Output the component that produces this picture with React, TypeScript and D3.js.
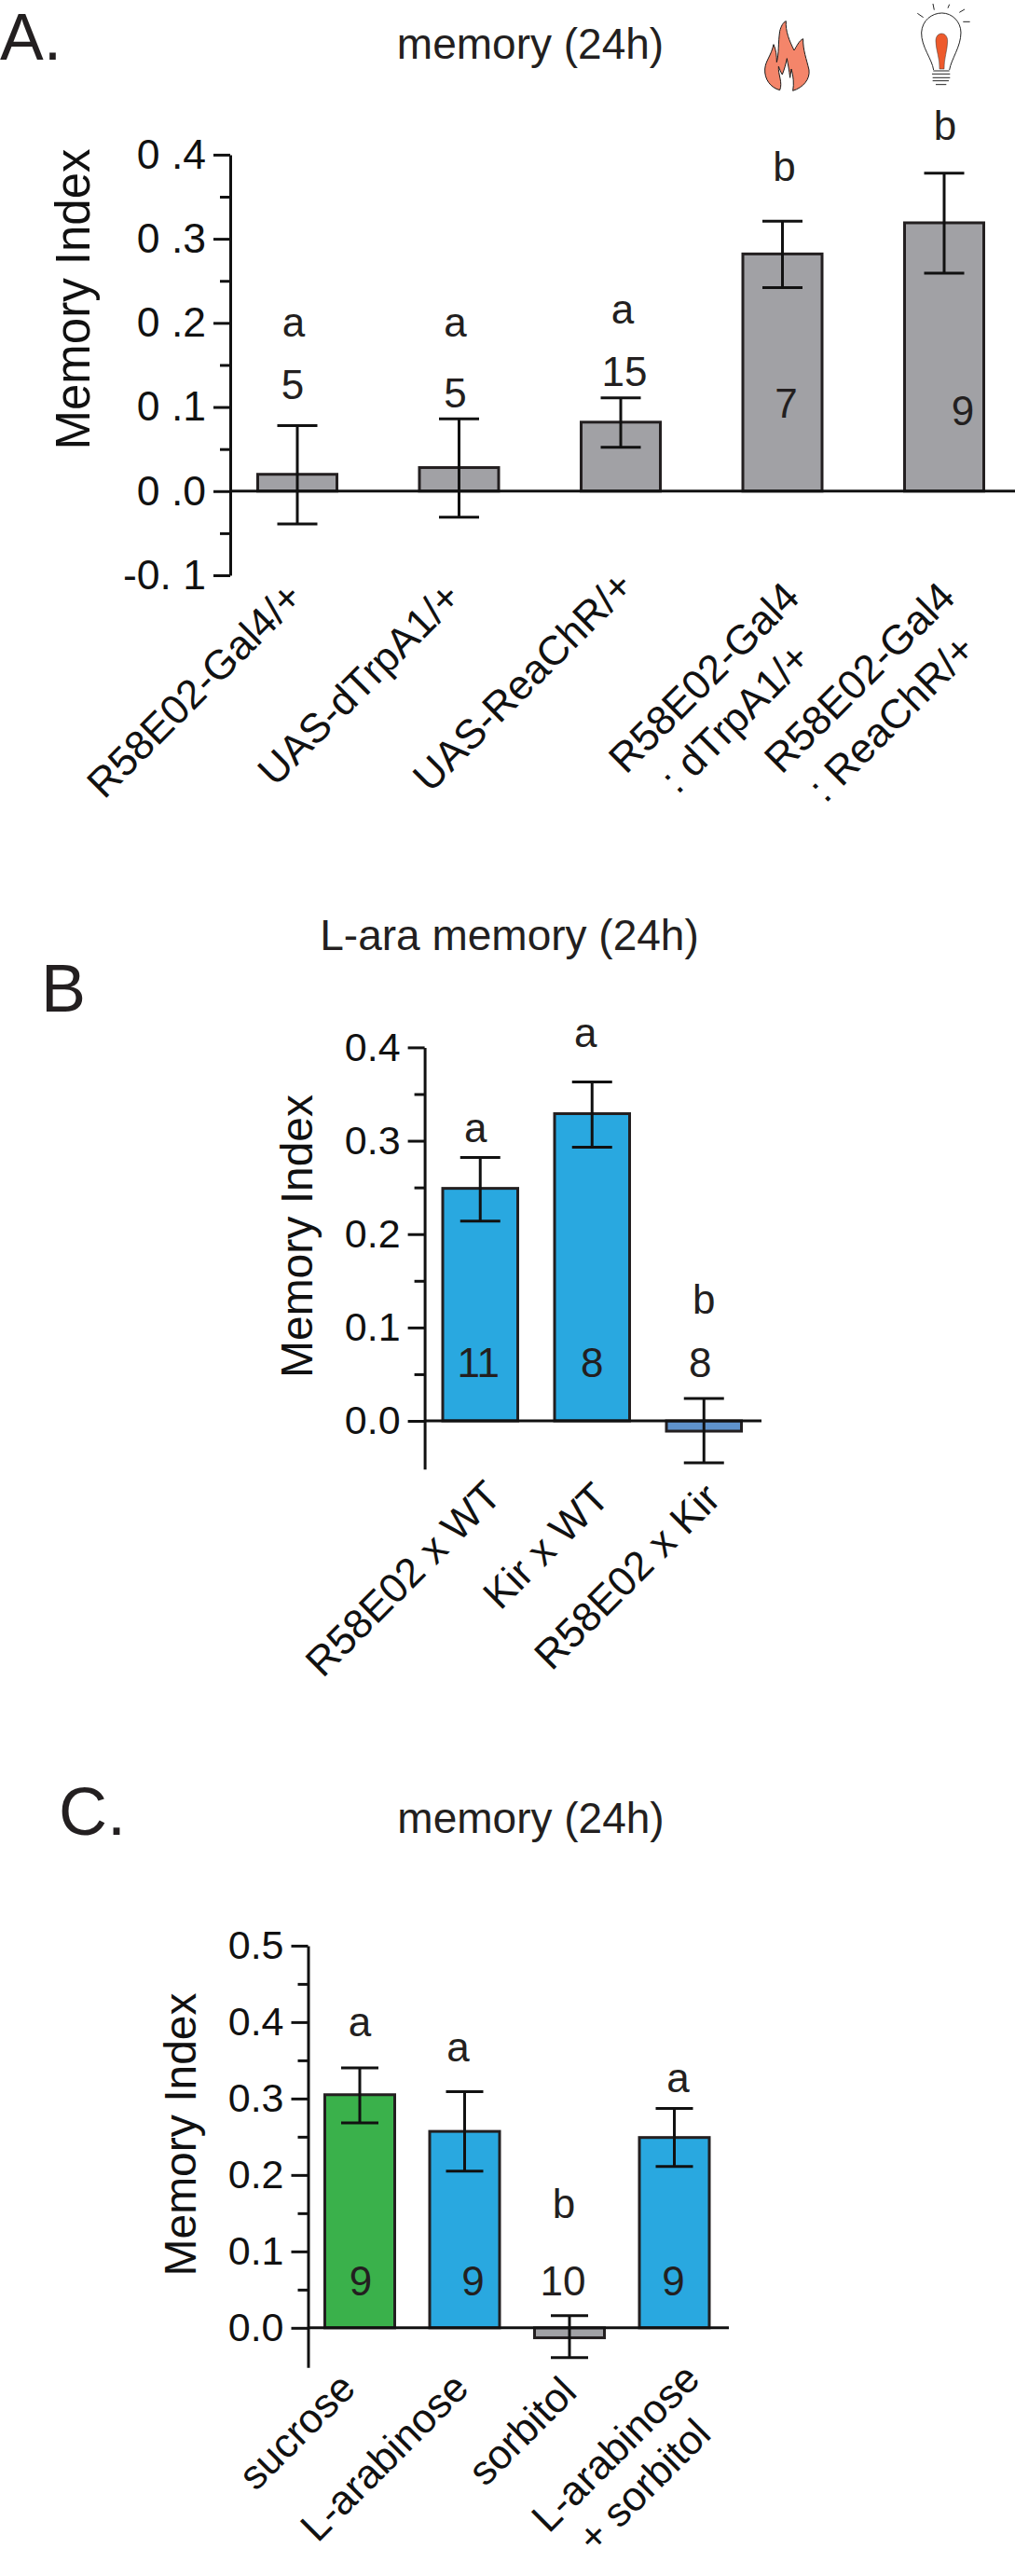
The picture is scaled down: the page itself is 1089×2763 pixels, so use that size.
import { useRef, useEffect } from "react";
import * as d3 from "d3";

const INK = "#231f20";
const GRAY = "#a1a1a5";
const BLUE = "#29a8e0";
const GREEN = "#3ab14b";
const STEEL = "#5f93cc";

// Panel A
const categoriesA = ["R58E02-Gal4/+", "UAS-dTrpA1/+", "UAS-ReaChR/+", "R58E02-Gal4\n: dTrpA1/+", "R58E02-Gal4\n: ReaChR/+"];
const valuesA = [0.02, 0.028, 0.082, 0.282, 0.319];
const upperA = [0.078, 0.086, 0.111, 0.321, 0.378];
const lowerA = [-0.039, -0.031, 0.052, 0.242, 0.259];
const lettersA = ["a", "a", "a", "b", "b"];
const countsA = ["5", "5", "15", "7", "9"];
const letterLevelA = [0.184, 0.184, 0.199, 0.369, 0.418];
const countLevelA = [0.11, 0.1, 0.125, 0.087, 0.078];
const ticksA = [0.4, 0.3, 0.2, 0.1, 0, -0.1];
const tickLabelsA = ["0 .4", "0 .3", "0 .2", "0 .1", "0 .0", "-0. 1"];
const minorA = [0.35, 0.25, 0.15, 0.05, -0.05];

// Panel B
const categoriesB = ["R58E02 x WT", "Kir x WT", "R58E02 x Kir"];
const valuesB = [0.249, 0.329, -0.011];
const upperB = [0.282, 0.363, 0.024];
const lowerB = [0.214, 0.293, -0.045];
const lettersB = ["a", "a", "b"];
const countsB = ["11", "8", "8"];
const letterLevelB = [0.299, 0.4, 0.115];
const countLevelB = [0.047, 0.047, 0.047];
const ticksB = [0.4, 0.3, 0.2, 0.1, 0];
const tickLabelsB = ["0.4", "0.3", "0.2", "0.1", "0.0"];
const minorB = [0.35, 0.25, 0.15, 0.05];

// Panel C
const categoriesC = ["sucrose", "L-arabinose", "sorbitol", "L-arabinose\n+ sorbitol"];
const valuesC = [0.305, 0.257, -0.013, 0.249];
const upperC = [0.34, 0.309, 0.016, 0.287];
const lowerC = [0.268, 0.205, -0.039, 0.211];
const lettersC = ["a", "a", "b", "a"];
const countsC = ["9", "9", "10", "9"];
const letterLevelC = [0.382, 0.349, 0.144, 0.308];
const countLevelC = [0.043, 0.043, 0.043, 0.043];
const ticksC = [0.5, 0.4, 0.3, 0.2, 0.1, 0];
const tickLabelsC = ["0.5", "0.4", "0.3", "0.2", "0.1", "0.0"];
const minorC = [0.45, 0.35, 0.25, 0.15, 0.05];

const panels = [
  {
    letter: "A.", letterX: 0, letterY: 64, letterSize: 70, title: "memory (24h)", titleX: 569, titleY: 63,
    axisX: 247, xEnd: 1089, yTop: 165.9, yZero: 526.4, yBottom: 617, domain: [-0.1, 0.4],
    bandStart: 276.5, bandEnd: 1055.5, barW: 85, capW: 43, tickSize: 44.5,
    categories: categoriesA, values: valuesA, upper: upperA, lower: lowerA, letters: lettersA, counts: countsA,
    letterLevel: letterLevelA, countLevel: countLevelA, ticks: ticksA, tickLabels: tickLabelsA, minor: minorA,
    colors: [GRAY, GRAY, GRAY, GRAY, GRAY],
    letterDx: [-4, -4, 2, 2, 1], countDx: [-5, -4, 4, 4, 20],
    yLabelX: 96, yLabelY: 321, yLabelSize: 51,
    xEnds: [[327, 643], [497, 643], [682, 631], [860, 643, 872, 708], [1027, 643, 1049, 699]],
  },
  {
    letter: "B", letterX: 44, letterY: 1085, letterSize: 72, title: "L-ara memory (24h)", titleX: 546.5, titleY: 1019,
    axisX: 455.6, xEnd: 817, yTop: 1123.4, yZero: 1524, yBottom: 1575.7, domain: [-0.0516, 0.4],
    bandStart: 475, bandEnd: 795.5, barW: 80.5, capW: 43, tickSize: 43,
    categories: categoriesB, values: valuesB, upper: upperB, lower: lowerB, letters: lettersB, counts: countsB,
    letterLevel: letterLevelB, countLevel: countLevelB, ticks: ticksB, tickLabels: tickLabelsB, minor: minorB,
    colors: [BLUE, BLUE, STEEL],
    letterDx: [-5, -7, 0], countDx: [-2, 0, -4],
    yLabelX: 334.7, yLabelY: 1326, yLabelSize: 48,
    xEnds: [[540, 1607], [656, 1609], [775, 1610]],
  },
  {
    letter: "C.", letterX: 63, letterY: 1967.5, letterSize: 72, title: "memory (24h)", titleX: 569.5, titleY: 1966,
    axisX: 330.5, xEnd: 782, yTop: 2086.9, yZero: 2496.8, yBottom: 2539.2, domain: [-0.0517, 0.5],
    bandStart: 348.5, bandEnd: 761, barW: 75, capW: 40, tickSize: 43,
    categories: categoriesC, values: valuesC, upper: upperC, lower: lowerC, letters: lettersC, counts: countsC,
    letterLevel: letterLevelC, countLevel: countLevelC, ticks: ticksC, tickLabels: tickLabelsC, minor: minorC,
    colors: [GREEN, BLUE, GRAY, BLUE],
    letterDx: [0, -7, -6, 4], countDx: [1, 9, -7, -1],
    yLabelX: 209.7, yLabelY: 2289.5, yLabelSize: 48,
    xEnds: [[383.5, 2564], [505, 2564], [621, 2568], [753, 2554, 765, 2613]],
  },
];

const FONT = "'Liberation Sans', Arial, sans-serif";

function drawPanel(svg: d3.Selection<SVGSVGElement, unknown, null, undefined>, p: (typeof panels)[number]) {
  const g = svg.append("g");
  const x = d3.scaleBand<string>().domain(p.categories).range([p.bandStart, p.bandEnd]).paddingInner(
    1 - p.barW / ((p.bandEnd - p.bandStart - p.barW) / (p.categories.length - 1))
  );
  const y = d3.scaleLinear().domain(p.domain).range([p.yBottom, p.yTop]);
  const bw = x.bandwidth();
  const cx = (i: number) => x(p.categories[i])! + bw / 2;

  // Bars
  g.selectAll("rect")
    .data(p.values)
    .enter()
    .append("rect")
    .attr("x", (_, i) => cx(i) - bw / 2)
    .attr("y", (d) => y(Math.max(d, 0)))
    .attr("width", bw)
    .attr("height", (d) => Math.abs(y(d) - y(0)))
    .attr("fill", (_, i) => p.colors[i])
    .attr("stroke", INK)
    .attr("stroke-width", 3);

  // Axes
  const major = g.append("g")
    .attr("transform", `translate(${p.axisX},0)`)
    .call(d3.axisLeft(y).tickValues(p.ticks).tickSize(18).tickSizeOuter(0).tickPadding(8)
      .tickFormat((_, i) => p.tickLabels[i]));
  major.selectAll("text")
    .attr("fill", "#111")
    .attr("font-size", p.tickSize)
    .attr("font-family", FONT);
  const minor = g.append("g")
    .attr("transform", `translate(${p.axisX},0)`)
    .call(d3.axisLeft(y).tickValues(p.minor).tickSize(11).tickSizeOuter(0).tickFormat(() => ""));
  g.selectAll(".domain, .tick line").attr("stroke", "#111").attr("stroke-width", 3);
  minor.select(".domain").remove();

  g.append("line")
    .attr("x1", p.axisX).attr("x2", p.xEnd)
    .attr("y1", y(0)).attr("y2", y(0))
    .attr("stroke", "#111").attr("stroke-width", 3);

  // Error bars
  p.values.forEach((_, i) => {
    const c = cx(i);
    const e = g.append("g").attr("stroke", "#111").attr("stroke-width", 3);
    e.append("line").attr("x1", c).attr("x2", c).attr("y1", y(p.upper[i])).attr("y2", y(p.lower[i]));
    [p.upper[i], p.lower[i]].forEach((v) => {
      e.append("line").attr("x1", c - p.capW / 2).attr("x2", c + p.capW / 2).attr("y1", y(v)).attr("y2", y(v));
    });
  });

  const label = (text: string, tx: number, ty: number, size: number, anchor = "middle", rot = 0, fill = INK) =>
    g.append("text")
      .attr("transform", `translate(${tx},${ty}) rotate(${rot})`)
      .attr("text-anchor", anchor)
      .attr("font-size", size)
      .attr("font-family", FONT)
      .attr("fill", fill)
      .text(text);

  // Significance letters and n
  p.letters.forEach((t, i) => label(t, cx(i) + p.letterDx[i], y(p.letterLevel[i]), 44));
  p.counts.forEach((t, i) => label(t, cx(i) + p.countDx[i], y(p.countLevel[i]), 44));

  // Category labels, split on line break
  p.categories.forEach((cat, i) => {
    const lines = cat.split("\n");
    const ends = p.xEnds[i];
    lines.forEach((line, j) => label(line, ends[j * 2], ends[j * 2 + 1], 44, "end", -45, "#111"));
  });

  label("Memory Index", p.yLabelX, p.yLabelY, p.yLabelSize, "middle", -90, "#111");
  label(p.title, p.titleX, p.titleY, 46);
  label(p.letter, p.letterX, p.letterY, p.letterSize, "start");
}

function drawIcons(svg: d3.Selection<SVGSVGElement, unknown, null, undefined>) {
  const icons = svg.append("g").attr("transform", "translate(780,0) scale(0.3333)");
  icons.append("path")
    .attr("d", "M170 290C140 282 120 255 122 222C124 195 142 180 150 143C158 160 160 180 160 200C168 170 164 140 170 100C174 85 180 72 190 68C188 100 200 130 216 162C224 150 232 130 245 125C244 160 256 190 264 225C268 255 245 282 212 292C216 270 214 245 207 222C205 235 204 245 203 250C200 225 196 205 193 188C190 205 184 225 178 240C172 232 170 222 166 214C164 240 180 265 170 290Z")
    .attr("fill", "#f4856a")
    .attr("stroke", "#1a1a1a")
    .attr("stroke-width", 3);
  const bulb = icons.append("g").attr("fill", "none").attr("stroke", "#222").attr("stroke-width", 3);
  bulb.append("path").attr("d", "M665 225C660 190 625 150 626 105C628 65 660 42 692 42C725 42 753 70 753 105C753 150 722 190 716 225");
  bulb.append("path").attr("d", "M664 228H716M660 238H718M662 250H718M662 260H714M672 272H706");
  bulb.append("path").attr("d", "M663 12L667 32M716 14L711 26M765 30L748 40M782 70L760 70M613 43L632 56");
  icons.append("path")
    .attr("d", "M684 222C686 190 672 160 672 132C672 115 682 108 691 108C702 108 710 118 710 132C710 160 698 190 699 222Z")
    .attr("fill", "#ee5a2c")
    .attr("stroke", "#333")
    .attr("stroke-width", 1.5);
}

export default function App() {
  const svgRef = useRef<SVGSVGElement>(null);

  useEffect(() => {
    if (!svgRef.current) return;
    const svg = d3.select(svgRef.current);
    svg.selectAll("*").remove();
    panels.forEach((p) => drawPanel(svg, p));
    drawIcons(svg);
  }, []);

  return (
    <svg
      ref={svgRef}
      width={1089}
      height={2763}
      style={{ position: "absolute", left: 0, top: 0, background: "#fff" }}
    />
  );
}
